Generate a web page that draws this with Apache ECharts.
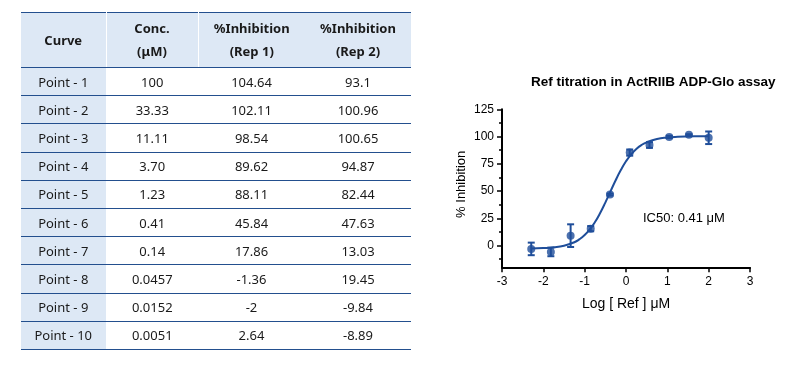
<!DOCTYPE html>
<html><head><meta charset="utf-8">
<script src="https://cdn.jsdelivr.net/npm/echarts@6/dist/echarts.min.js"></script>
<style>
html,body{margin:0;padding:0;background:#fff;width:790px;height:365px;overflow:hidden}
#chart{position:absolute;left:0;top:0;width:790px;height:365px}
#tbl{position:absolute;left:21px;top:12px;width:390px;border-collapse:collapse;table-layout:fixed;
 font-family:'Noto Sans',sans-serif;font-size:13px;color:#1a1a1a;z-index:2;border-top:1.5px solid #234f8e}
#tbl th{background:#dde8f5;font-weight:bold;height:54px;padding:0;line-height:23px;text-align:center;border-bottom:1.5px solid #234f8e}
#tbl th.sep{border-right:1.5px solid #fff}
#tbl td{height:27.2px;padding:0;text-align:center;border-bottom:1.5px solid #234f8e;line-height:16px}
#tbl td.first{background:#dde8f5;border-right:1.5px solid #fff}
</style></head>
<body>
<div id="chart"></div>
<table id="tbl"><colgroup><col style="width:85px"><col style="width:92px"><col style="width:107px"><col style="width:106px"></colgroup>
<thead><tr id="hdr"></tr></thead><tbody id="body"></tbody></table>
<script>
// ---- table data ----
const headers = [['Curve'], ['Conc.', '(μM)'], ['%Inhibition', '(Rep 1)'], ['%Inhibition', '(Rep 2)']];
const curveNames = ['Point - 1','Point - 2','Point - 3','Point - 4','Point - 5','Point - 6','Point - 7','Point - 8','Point - 9','Point - 10'];
const concLabels = ['100','33.33','11.11','3.70','1.23','0.41','0.14','0.0457','0.0152','0.0051'];
const rep1 = [104.64, 102.11, 98.54, 89.62, 88.11, 45.84, 17.86, -1.36, -2, 2.64];
const rep2 = [93.1, 100.96, 100.65, 94.87, 82.44, 47.63, 13.03, 19.45, -9.84, -8.89];

// ---- fitted curve (log conc, % inhibition) ----
const fitX = [-2.3, -2.0, -1.75, -1.5, -1.25, -1.125, -1.0, -0.875, -0.75, -0.625, -0.5, -0.375, -0.25, -0.125, 0.0, 0.125, 0.25, 0.375, 0.5, 0.75, 1.0, 1.25, 1.5, 1.75, 2.0];
const fitY = [-2.8, -2.4, -1.7, -0.2, 3.0, 5.8, 9.6, 14.8, 21.5, 29.8, 39.4, 49.7, 59.9, 69.2, 77.3, 83.7, 88.6, 92.2, 94.7, 97.7, 99.1, 99.8, 100.1, 100.2, 100.3];

// ---- axis ticks ----
const xTicks = [-3, -2, -1, 0, 1, 2, 3];
const yTicks = [0, 25, 50, 75, 100, 125];
const yMinorTicks = [-12.5, 12.5, 37.5, 62.5, 87.5, 112.5];

const titleText = 'Ref titration in ActRIIB ADP-Glo assay';
const ic50Text = 'IC50: 0.41 μM';
const xName = 'Log [ Ref ] μM';
const yName = '% Inhibition';

// build table
const hdr = document.getElementById('hdr');
headers.forEach((h, i) => {
  const th = document.createElement('th');
  if (i < 2) th.className = 'sep';
  th.innerHTML = h.join('<br>');
  hdr.appendChild(th);
});
const body = document.getElementById('body');
curveNames.forEach((n, i) => {
  const tr = document.createElement('tr');
  [n, concLabels[i], String(rep1[i]), String(rep2[i])].forEach((v, j) => {
    const td = document.createElement('td');
    if (j === 0) td.className = 'first';
    td.textContent = v;
    tr.appendChild(td);
  });
  body.appendChild(tr);
});

// chart data
const C = '#1f4e9a';
const pts = concLabels.map((c, i) => [Math.log10(parseFloat(c)), (rep1[i] + rep2[i]) / 2]);
const errs = concLabels.map((c, i) => {
  const m = (rep1[i] + rep2[i]) / 2, s = Math.abs(rep1[i] - rep2[i]) / 2;
  return [Math.log10(parseFloat(c)), m - s, m + s];
});
const fit = fitX.map((x, i) => [x, fitY[i]]);

const chart = echarts.init(document.getElementById('chart'));
const FONT = "'Liberation Sans', Arial, sans-serif";
chart.setOption({
  animation: false,
  title: {text: titleText, left: 526, top: 70, textStyle: {fontFamily: FONT, fontSize: 13.5, fontWeight: 'bold', color: '#000'}},
  grid: {left: 502, right: 40, top: 109.3, bottom: 97.7, containLabel: false},
  xAxis: {type: 'value', min: xTicks[0], max: xTicks[xTicks.length - 1], interval: 1,
    name: xName, nameLocation: 'middle', nameGap: 30, nameTextStyle: {fontFamily: FONT, fontSize: 14, color: '#000'},
    axisLine: {onZero: false, lineStyle: {color: '#000', width: 2}},
    axisTick: {length: 5, lineStyle: {color: '#000', width: 1.5}},
    axisLabel: {margin: 8, fontFamily: FONT, fontSize: 12, color: '#000'},
    splitLine: {show: false}},
  yAxis: [
    {type: 'value', min: -20, max: 125,
     name: yName, nameLocation: 'middle', nameGap: 34, nameTextStyle: {fontFamily: FONT, fontSize: 13, color: '#000', padding: [0, 0, 0, 8]},
     axisLine: {onZero: false, lineStyle: {color: '#000', width: 2}},
     axisTick: {length: 5, customValues: yTicks, lineStyle: {color: '#000', width: 1.5}},
     axisLabel: {margin: 8, customValues: yTicks, fontFamily: FONT, fontSize: 12, color: '#000'},
     splitLine: {show: false}},
    {type: 'value', min: -20, max: 125, position: 'left',
     axisLine: {show: false, onZero: false},
     axisTick: {length: 3, customValues: yMinorTicks, lineStyle: {color: '#000', width: 1.5}},
     axisLabel: {show: false}, splitLine: {show: false}}
  ],
  graphic: [{type: 'text', left: 643, top: 212, style: {text: ic50Text, font: '13px ' + FONT, fill: '#000'}}],
  series: [
    {type: 'line', data: fit, smooth: true, showSymbol: false, lineStyle: {color: C, width: 2}, z: 2},
    {type: 'custom', data: errs, encode: {x: 0, y: [1, 2]}, z: 3,
     renderItem: (params, api) => {
       const x = api.value(0), lo = api.value(1), hi = api.value(2);
       const a = api.coord([x, hi]), b = api.coord([x, lo]);
       const w = 3.5, st = {stroke: C, lineWidth: 2};
       return {type: 'group', children: [
         {type: 'line', shape: {x1: a[0], y1: a[1], x2: b[0], y2: b[1]}, style: st},
         {type: 'line', shape: {x1: a[0] - w, y1: a[1], x2: a[0] + w, y2: a[1]}, style: st},
         {type: 'line', shape: {x1: b[0] - w, y1: b[1], x2: b[0] + w, y2: b[1]}, style: st}
       ]};
     }},
    {type: 'scatter', data: pts, symbol: 'circle', symbolSize: 8, itemStyle: {color: C}, z: 4}
  ]
});
</script>
</body></html>
